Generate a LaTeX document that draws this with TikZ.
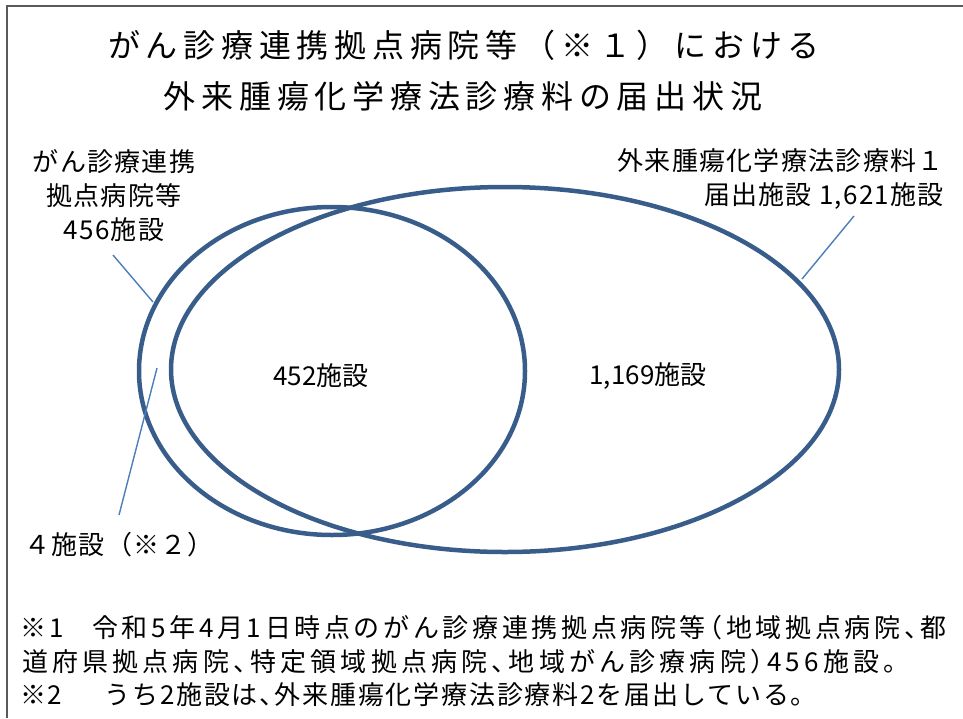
\documentclass[tikz,border=0pt]{standalone}
\usepackage{fontspec}
\usetikzlibrary{shapes.geometric}
\newfontfamily\jp{Noto Sans CJK JP}
\newfontfamily\jpt[LetterSpace=18]{Noto Sans CJK JP}
\newfontfamily\jpl[LetterSpace=5]{Noto Sans CJK JP}
\newfontfamily\jpn[LetterSpace=5]{Noto Sans CJK JP}
\newfontfamily\jpa[RawFeature=+halt,LetterSpace=14]{Noto Sans CJK JP}
\newfontfamily\jpc[RawFeature=+halt,LetterSpace=16]{Noto Sans CJK JP}
\newfontfamily\jpb[RawFeature=+halt,LetterSpace=7]{Noto Sans CJK JP}
\definecolor{ring}{HTML}{385D8A}
\definecolor{lead}{HTML}{4A7EBB}
\definecolor{framec}{HTML}{5A5A5A}
\tikzset{
  setring/.style={ellipse, draw=ring, line width=4.5pt, inner sep=0pt, outer sep=0pt},
  leader/.style={draw=lead, line width=1.4pt},
  titletext/.style={font=\jpt\fontsize{32}{40}\selectfont, inner sep=0pt},
  labeltext/.style={font=\jpl\fontsize{26}{34}\selectfont, inner sep=0pt},
  numtext/.style={font=\jp\fontsize{26}{30}\selectfont, inner sep=0pt},
  notetext/.style={font=\jpb\fontsize{26}{32}\selectfont, inner sep=0pt, anchor=west},
}
\begin{document}
\begin{tikzpicture}[x=1pt,y=-1pt]
\useasboundingbox (0,0) rectangle (963,718);
\draw[framec, line width=2.6pt] (7,718) -- (7,6) -- (963,6);
% title
\node[titletext] (t1) at (464,45) {がん診療連携拠点病院等（※１）における};
\node[titletext] (t2) at (463,96) {外来腫瘍化学療法診療料の届出状況};
% ellipses
\node[setring, minimum width=386pt, minimum height=328pt] (A) at (332,371) {};
\node[setring, minimum width=668pt, minimum height=365pt] (B) at (505,369.5) {};
% labels
\node[labeltext, align=center] (la) at (114,196) {がん診療連携\\拠点病院等\\456施設};
\node[labeltext, align=right, anchor=north east] (lb) at (944,148) {外来腫瘍化学療法診療料１\\届出施設 1,621施設};
\node[numtext] (n1) at (321,376) {452施設};
\node[numtext] (n2) at (648,376) {1,169施設};
\node[numtext, font=\jpn\fontsize{26}{30}\selectfont, anchor=west] (n3) at (24,545) {４施設（※２）};
% leaders
\coordinate (a1) at (113,255);
\coordinate (a2) at (153,302);
\coordinate (b1) at (854,216);
\coordinate (b2) at (802,279);
\coordinate (c1) at (157,368);
\coordinate (c2) at (119,515);
\draw[leader] (a1) -- (a2);
\draw[leader] (b1) -- (b2);
\draw[leader] (c1) -- (c2);
% notes
\node[notetext, font=\jpa\fontsize{26}{32}\selectfont] (f1) at (20,628) {※1\hspace{28pt}令和5年4月1日時点のがん診療連携拠点病院等（地域拠点病院、都};
\node[notetext, font=\jpc\fontsize{26}{32}\selectfont] (f2) at (22,662) {道府県拠点病院、特定領域拠点病院、地域がん診療病院）456施設。};
\node[notetext] (f3) at (20,695) {※2\hspace{42pt}うち2施設は、外来腫瘍化学療法診療料2を届出している。};
\end{tikzpicture}
\end{document}
